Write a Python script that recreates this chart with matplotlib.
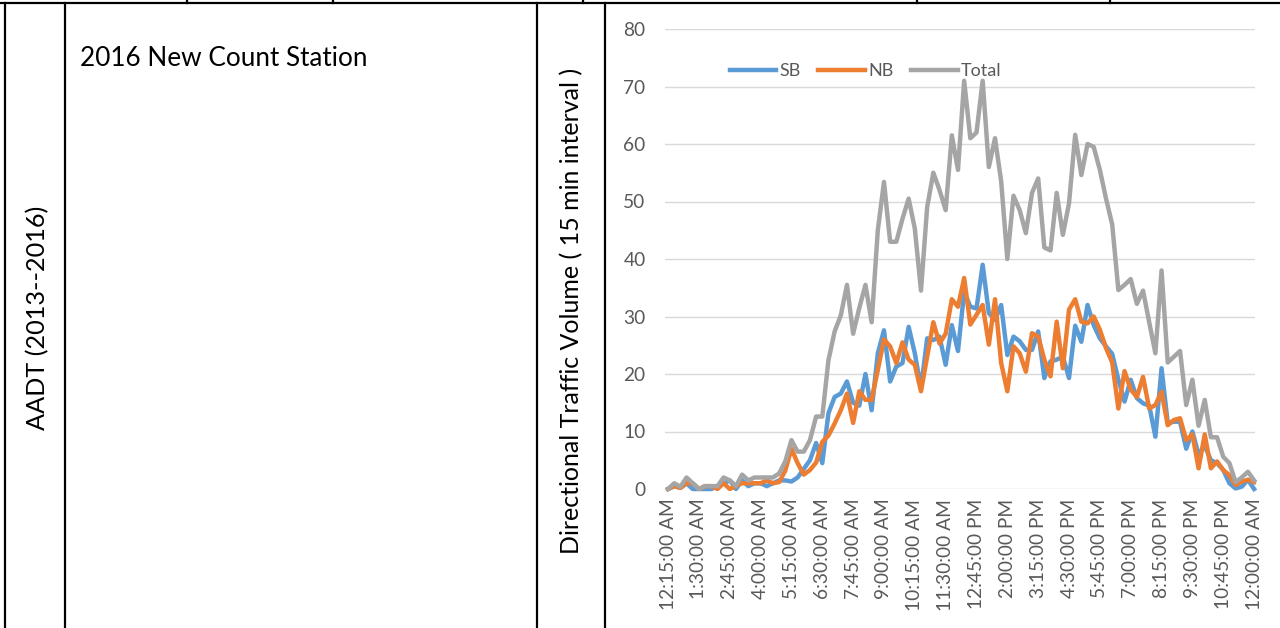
import numpy as np
import matplotlib as mpl
mpl.use("Agg")
import matplotlib.pyplot as plt
from matplotlib.lines import Line2D

# 15 minute intervals, 12:15 AM .. 12:00 AM (96 points)
tick_labels = ["12:15:00 AM", "1:30:00 AM", "2:45:00 AM", "4:00:00 AM", "5:15:00 AM",
               "6:30:00 AM", "7:45:00 AM", "9:00:00 AM", "10:15:00 AM", "11:30:00 AM",
               "12:45:00 PM", "2:00:00 PM", "3:15:00 PM", "4:30:00 PM", "5:45:00 PM",
               "7:00:00 PM", "8:15:00 PM", "9:30:00 PM", "10:45:00 PM", "12:00:00 AM"]

sb = [0, 0.5, 0.2, 1, 0, 0, 0, 0, 0.5, 1, 1.5, 0, 1.5, 0.5, 1, 1, 0.5, 1, 1.5, 1.5,
      1.3, 2, 3.5, 5, 8, 4.5, 13.2, 16, 16.6, 18.7, 15, 14.5, 20, 13.7, 23.6, 27.6, 18.7, 21.3, 21.9, 28.2,
      23.6, 17.5, 26.2, 25.9, 26.5, 21.6, 28.5, 24, 34.3, 31.7, 31.4, 39, 30.6, 29.4, 32, 23.3, 26.5, 25.7, 24.2, 24.2,
      27.4, 19.3, 22.2, 22.5, 23, 19.3, 28.4, 25.6, 32, 28.5, 26.2, 24.8, 23.5, 19, 15.2, 19, 15.8, 14.9, 14.5, 9.1,
      21, 11.5, 11.7, 11.7, 7, 10, 6, 7.5, 5, 4.5, 3.3, 1, 0.1, 0.4, 1.6, 0]

nb = [0, 0.5, 0.2, 1, 1, 0, 0.5, 0.5, 0, 1, 0, 0.5, 1, 1, 1, 1, 1.5, 1, 1.2, 3.2,
      7, 4.5, 2.5, 3.3, 4.6, 8.2, 9.3, 11.4, 13.7, 16.6, 11.5, 17, 15.5, 15.5, 20.7, 26, 24.8, 21.9, 25.5, 22.5,
      21.6, 17, 23, 29, 25.3, 27, 33, 31.7, 36.7, 28.6, 30.3, 32, 25.1, 33, 21.9, 17, 24.8, 23.6, 20.4, 27.1,
      26.5, 22.5, 19.6, 29.1, 21, 31.2, 33, 29.1, 28.8, 30, 27.7, 24.5, 22, 14, 20.5, 17.3, 16, 19.5, 14, 14.6,
      16.9, 11.1, 12, 12.3, 8.5, 9.5, 3.6, 9.5, 3.6, 4.8, 3.3, 2.4, 0.7, 1.3, 1.6, 1.2]

total = [0, 1, 0.4, 2, 1, 0, 0.5, 0.5, 0.5, 2, 1.5, 0.5, 2.5, 1.5, 2, 2, 2, 2, 2.7, 4.8,
         8.5, 6.5, 6.5, 8.5, 12.6, 12.6, 22.4, 27.4, 30.2, 35.5, 27, 31.5, 35.5, 29, 45, 53.4, 43, 43, 47, 50.5,
         45.3, 34.5, 49, 55, 52, 48.5, 61.5, 55.5, 71, 61, 62, 71, 56, 61, 53.5, 40, 51, 48.5, 44.5, 51.5,
         54, 42, 41.5, 51.5, 44.2, 49.7, 61.6, 54.6, 60, 59.5, 55.5, 50.5, 46, 34.6, 35.5, 36.5, 32.2, 34.5, 29, 23.6,
         38, 22, 23, 24, 14.6, 19, 11, 15.5, 9, 9, 5.6, 4.5, 1.2, 2, 3, 1.5]

x = np.arange(len(total))

plt.rcParams["font.family"] = ["Lato", "DejaVu Sans"]

fig = plt.figure(figsize=(12.8, 6.28), dpi=100)
ax = fig.add_axes([665 / 1280, 1 - 489 / 628, 590 / 1280, 460 / 628])

ax.plot(x, sb, color="#5B9BD5", lw=3.2, label="SB", clip_on=False, solid_joinstyle="round")
ax.plot(x, nb, color="#ED7D31", lw=3.2, label="NB", clip_on=False, solid_joinstyle="round")
ax.plot(x, total, color="#A5A5A5", lw=3.2, label="Total", clip_on=False, solid_joinstyle="round")

ax.set_xlim(-0.5, 95.15)
ax.set_ylim(0, 80)
ax.set_yticks(np.arange(0, 81, 10))
ax.set_xticks(x[::5])
ax.set_xticklabels(tick_labels, rotation=90, ha="center", va="top")
ax.tick_params(length=0, labelsize=13.8, labelcolor="#595959")
ax.tick_params(axis="y", pad=14)
ax.tick_params(axis="x", pad=7)
ax.grid(axis="y", color="#D9D9D9", lw=1)
ax.set_axisbelow(True)
for s in ax.spines.values():
    s.set_visible(False)

leg = ax.legend(loc="center", bbox_to_anchor=(0.34, 0.909), ncol=3, frameon=False,
                fontsize=13, handlelength=2.6, handletextpad=0.15, columnspacing=1.0)
for t in leg.get_texts():
    t.set_color("#595959")

fig.text(572 / 1280, 1 - 311 / 628, "Directional Traffic Volume ( 15 min interval )",
         rotation=90, ha="center", va="center", fontsize=18, color="black")
fig.text(38 / 1280, 1 - 318 / 628, "AADT (2013--2016)", rotation=90,
         ha="center", va="center", fontsize=18.2, color="black")
fig.text(80 / 1280, 1 - 58 / 628, "2016 New Count Station", ha="left", va="center",
         fontsize=18.8, color="black")

# table borders around the chart
def hline(y, x0, x1):
    fig.add_artist(Line2D([x0 / 1280, x1 / 1280], [1 - y / 628, 1 - y / 628],
                          transform=fig.transFigure, color="black", lw=1.6))

def vline(xp, y0, y1):
    fig.add_artist(Line2D([xp / 1280, xp / 1280], [1 - y0 / 628, 1 - y1 / 628],
                          transform=fig.transFigure, color="black", lw=1.6))

hline(3, 0, 1280)
for xp in [5, 65, 537, 605]:
    vline(xp, 3, 628)
for xp in [187, 333, 583, 917, 1110]:
    vline(xp, 0, 3)

fig.savefig("out.png", dpi=100)
